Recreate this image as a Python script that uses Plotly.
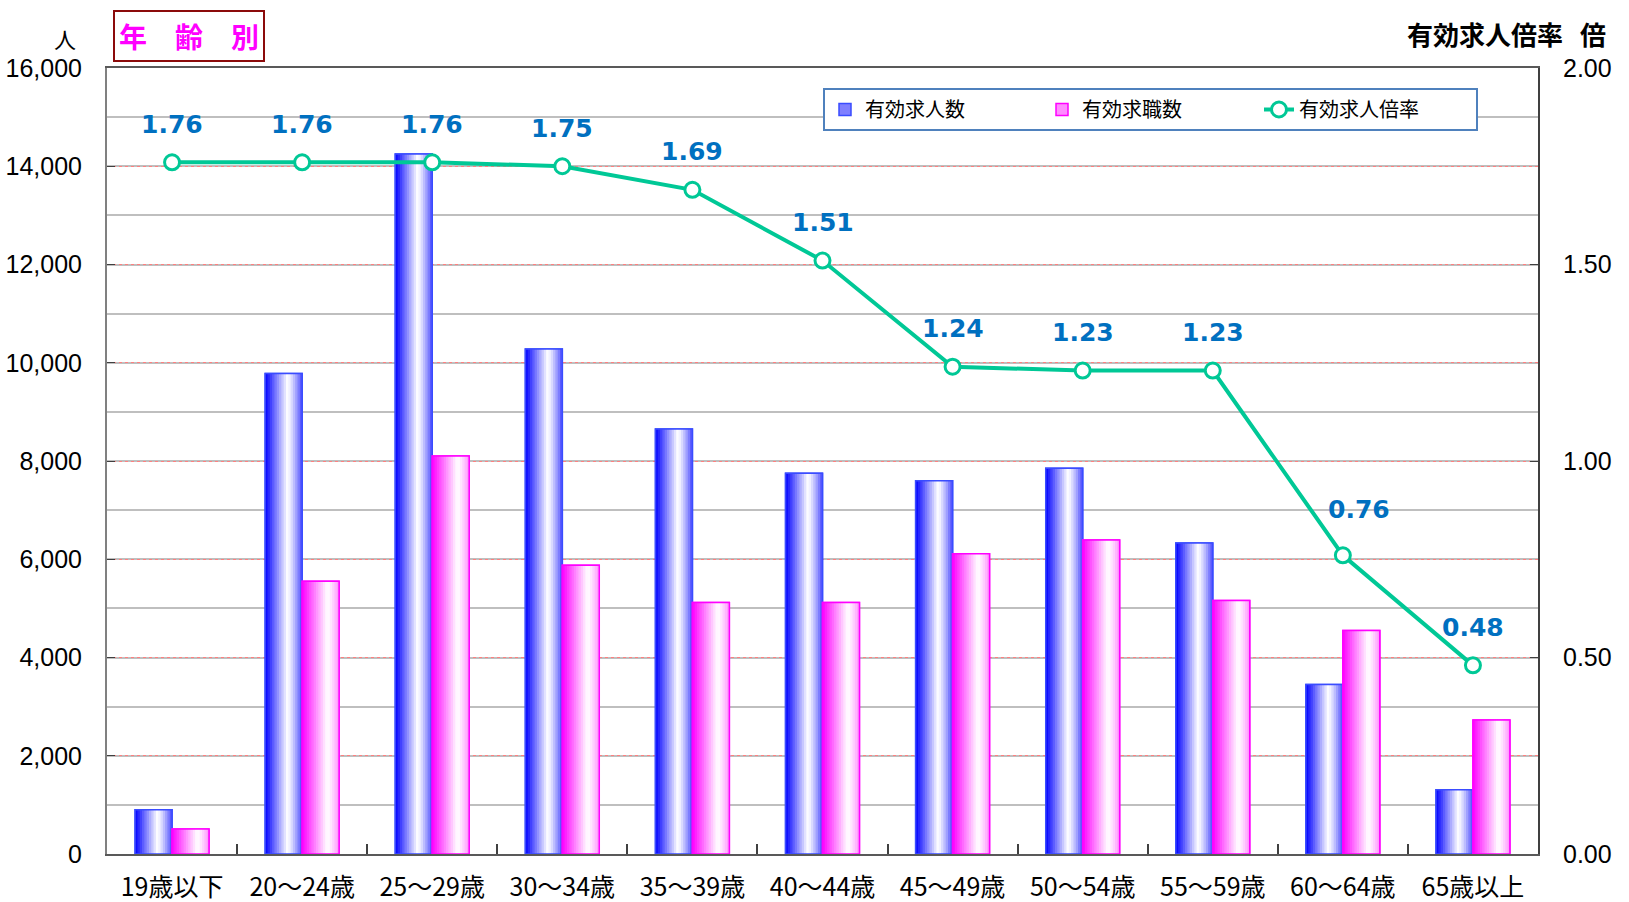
import plotly.graph_objects as go

# ---------------- data ----------------
categories = ["19歳以下", "20～24歳", "25～29歳", "30～34歳", "35～39歳", "40～44歳",
              "45～49歳", "50～54歳", "55～59歳", "60～64歳", "65歳以上"]
openings = [900, 9780, 14250, 10280, 8650, 7750, 7600, 7850, 6330, 3450, 1310]   # 有効求人数
seekers = [510, 5550, 8100, 5880, 5120, 5120, 6110, 6390, 5160, 4550, 2730]      # 有効求職数
ratio = [1.76, 1.76, 1.76, 1.75, 1.69, 1.51, 1.24, 1.23, 1.23, 0.76, 0.48]        # 有効求人倍率
series_names = ["有効求人数", "有効求職数", "有効求人倍率"]
y_ticks = [0, 2000, 4000, 6000, 8000, 10000, 12000, 14000, 16000]
y2_ticks = [0.0, 0.5, 1.0, 1.5, 2.0]

# ---------------- style ----------------
W, H = 1629, 902
ML, MT = 107, 68
MR = W - 1538
MB = H - 854
PW, PH = W - ML - MR, H - MT - MB
BW = 0.284          # bar width in category units
NS = 16             # gradient slices per bar
LINE_COL = "#00C896"
LABEL_COL = "#0070C0"
CJK = "Noto Sans CJK JP"
LABEL_NUDGE = {9: (16, 8)}   # small label offsets (index: (dx px, dy px))


def px_x(px):
    return (px - ML) / PW


def px_y(py):
    return (H - MB - py) / PH


def blue_grad(t):
    if t < 0.6:
        w = (t / 0.6) ** 1.0
    else:
        w = 1 - 0.72 * ((t - 0.6) / 0.4) ** 1.3
    v = int(round(255 * w))
    return f"rgb({v},{v},255)"


def pink_grad(t):
    if t < 0.68:
        w = (t / 0.68) ** 1.0
    else:
        w = 1 - 0.45 * ((t - 0.68) / 0.32) ** 1.3
    v = int(round(255 * w))
    return f"rgb(255,{v},255)"


fig = go.Figure()


def add_gradient_bars(values, name, offset, grad, legend_col, edge_col):
    # base (legend carrier)
    fig.add_trace(go.Bar(
        x=categories, y=values, name=name, width=BW, offset=offset,
        marker=dict(color=legend_col, line=dict(color=edge_col, width=1.5)),
        showlegend=True, legendgroup=name, hoverinfo="skip"))
    sw = BW / NS
    for i in range(NS):
        t = (i + 0.5) / NS
        w = sw * 1.4 if i < NS - 1 else sw
        fig.add_trace(go.Bar(
            x=categories, y=values, width=w, offset=offset + i * sw,
            marker=dict(color=grad(t), line=dict(width=0)),
            showlegend=False, legendgroup=name, hoverinfo="skip"))
    # outline
    fig.add_trace(go.Bar(
        x=categories, y=values, width=BW, offset=offset,
        marker=dict(color="rgba(0,0,0,0)", line=dict(color=edge_col, width=1.5)),
        showlegend=False, legendgroup=name, hovertemplate="%{x}: %{y:,}<extra></extra>"))


add_gradient_bars(openings, series_names[0], -BW, blue_grad, "#7f7fff", "#3a4cff")
add_gradient_bars(seekers, series_names[1], 0.0, pink_grad, "#ff8cff", "#ff00ff")

fig.add_trace(go.Scatter(
    x=categories, y=ratio, yaxis="y2", name=series_names[2],
    mode="lines+markers",
    line=dict(color=LINE_COL, width=4),
    marker=dict(size=15, color="white", line=dict(color=LINE_COL, width=3)),
    hovertemplate="%{x}: %{y:.2f}<extra></extra>"))

annotations = []
for i, (c, r) in enumerate(zip(categories, ratio)):
    dx, dy = LABEL_NUDGE.get(i, (0, 0))
    annotations.append(dict(
        x=c, y=r, xref="x", yref="y2", text=f"{r:.2f}", showarrow=False,
        xshift=dx, yshift=38 + dy,
        font=dict(family="DejaVu Sans", size=25, color=LABEL_COL, weight="bold")))

annotations += [
    dict(text="<b>年　齢　別</b>", xref="paper", yref="paper", x=px_x(189), y=px_y(36),
         xanchor="center", yanchor="middle", showarrow=False,
         font=dict(family=CJK, size=28, color="#FF00FF"),
         bordercolor="#8B0A0A", borderwidth=2, borderpad=4, bgcolor="white"),
    dict(text="人", xref="paper", yref="paper", x=px_x(65), y=px_y(38),
         xanchor="center", yanchor="middle", showarrow=False,
         font=dict(family=CJK, size=22, color="black")),
    dict(text="<b>有効求人倍率</b>", xref="paper", yref="paper", x=px_x(1565), y=px_y(34),
         xanchor="right", yanchor="middle", showarrow=False,
         font=dict(family=CJK, size=26, color="black")),
    dict(text="<b>倍</b>", xref="paper", yref="paper", x=px_x(1608), y=px_y(34),
         xanchor="right", yanchor="middle", showarrow=False,
         font=dict(family=CJK, size=26, color="black")),
]

fig.update_layout(
    width=W, height=H,
    margin=dict(l=ML, r=MR, t=MT, b=MB, pad=0, autoexpand=False),
    paper_bgcolor="white", plot_bgcolor="white",
    barmode="overlay",
    showlegend=True,
    legend=dict(
        orientation="h", x=px_x(823), y=px_y(88), xanchor="left", yanchor="top",
        bgcolor="white", bordercolor="#4F81BD", borderwidth=2,
        font=dict(family=CJK, size=20, color="black"),
        entrywidth=172, entrywidthmode="pixels", traceorder="normal",
        itemclick=False, itemdoubleclick=False),
    xaxis=dict(
        type="category", categoryorder="array", categoryarray=categories,
        range=[-0.5, len(categories) - 0.5], automargin=False,
        showline=True, linecolor="#595959", linewidth=2, mirror=True,
        ticks="inside", tickson="boundaries", ticklen=10, tickcolor="#404040", tickwidth=1.5,
        tickfont=dict(family=CJK, size=25, color="black"),
        ticklabelstandoff=10, showgrid=False, zeroline=False),
    yaxis=dict(
        range=[0, 16000], tickvals=y_ticks, tickformat=",", automargin=False,
        showline=True, linecolor="#808080", linewidth=2,
        ticks="inside", ticklen=8, tickcolor="#404040",
        tickfont=dict(family="Liberation Sans", size=25, color="black"),
        ticklabelstandoff=18,
        showgrid=True, gridcolor="#FF8080", griddash="dot", gridwidth=1,
        minor=dict(dtick=1000, showgrid=True, gridcolor="#BFBFBF", gridwidth=2, griddash="solid"),
        zeroline=False),
    yaxis2=dict(
        range=[0, 2], tickvals=y2_ticks, tickformat=".2f", automargin=False,
        overlaying="y", side="right",
        showline=True, linecolor="#404040", linewidth=2,
        ticks="inside", ticklen=8, tickcolor="#404040",
        tickfont=dict(family="Liberation Sans", size=25, color="black"),
        ticklabelstandoff=18,
        showgrid=False, zeroline=False),
    annotations=annotations,
)

fig.write_html(
    "out.html",
    config={"displayModeBar": False},
    post_script="document.body.style.margin='0';document.body.style.overflow='hidden';",
)
